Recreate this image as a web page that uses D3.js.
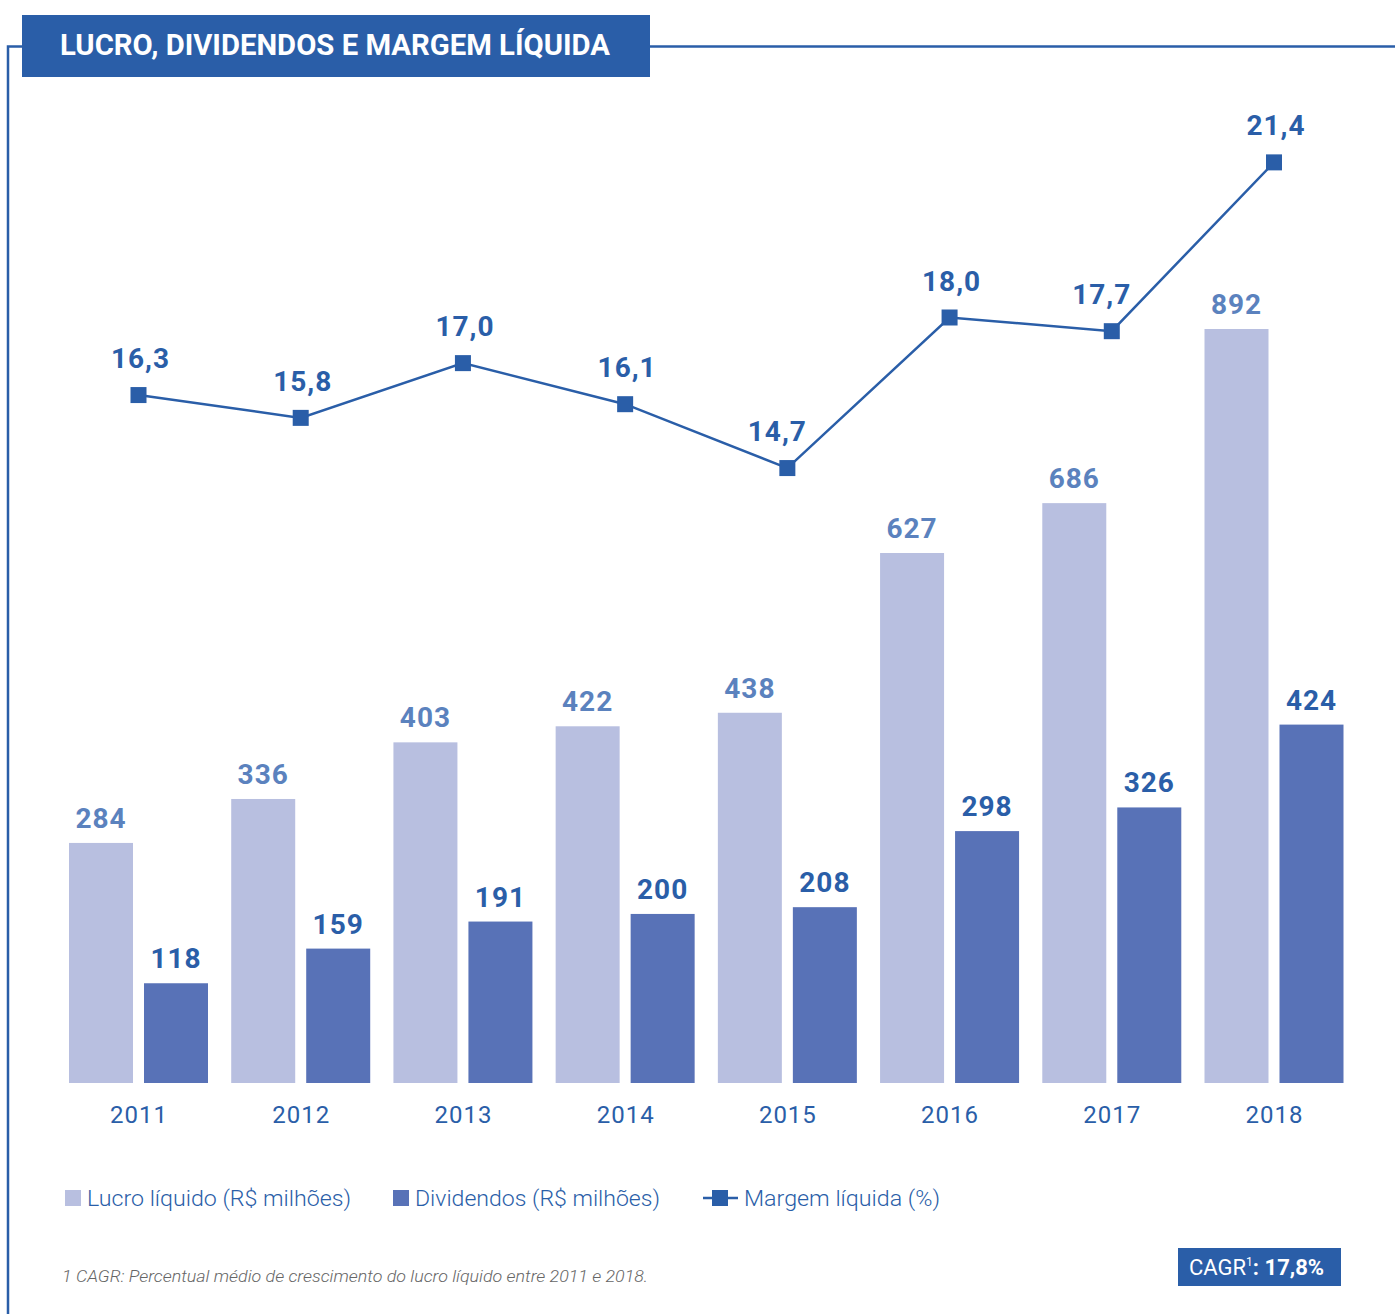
<!DOCTYPE html>
<html>
<head>
<meta charset="utf-8">
<script src="https://cdn.jsdelivr.net/npm/d3@7"></script>
<style>
  html, body { margin: 0; padding: 0; background: #ffffff; }
  svg { display: block; font-family: Roboto, "Noto Sans", sans-serif; }
</style>
</head>
<body>
<svg id="chart" width="1395" height="1314"></svg>
<script>
// Net income, dividends and net margin, 2011–2018
const years = ["2011", "2012", "2013", "2014", "2015", "2016", "2017", "2018"];
const lucro = [284, 336, 403, 422, 438, 627, 686, 892];        // R$ milhões
const dividendos = [118, 159, 191, 200, 208, 298, 326, 424];   // R$ milhões
const margem = [16.3, 15.8, 17.0, 16.1, 14.7, 18.0, 17.7, 21.4]; // %
const legendLabels = ["Lucro líquido (R$ milhões)", "Dividendos (R$ milhões)", "Margem líquida (%)"];
const titleText = "LUCRO, DIVIDENDOS E MARGEM LÍQUIDA";
const footnote = "1 CAGR: Percentual médio de crescimento do lucro líquido entre 2011 e 2018.";
const cagrValue = 17.8;

const C = {
  brand: "#2a5ea8",
  lucro: "#b8bfe0",
  div: "#5872b7",
  lucroText: "#5b82be",
  foot: "#666666"
};

const fmt = (v, d) => v.toFixed(d).replace(".", ",");

const svg = d3.select("#chart");

// Frame: left rule and top rule broken by the title box
const frame = svg.append("g").attr("fill", "none").attr("stroke", C.brand).attr("stroke-width", 2.5);
frame.append("path").attr("d", "M8,1314 V46.5 H22");
frame.append("path").attr("d", "M650,46.5 H1395");

svg.append("rect").attr("x", 22).attr("y", 15).attr("width", 628).attr("height", 62).attr("fill", C.brand);
svg.append("text")
  .attr("x", 60).attr("y", 55)
  .attr("fill", "#ffffff").attr("font-weight", 700).attr("font-size", 29)
  .attr("textLength", 550).attr("lengthAdjust", "spacingAndGlyphs")
  .text(titleText);

// Scales
const x = d3.scalePoint().domain(years).range([138.5, 1274]);
const yBar = d3.scaleLinear().domain([0, 892]).range([1083, 329]);
const yLine = d3.scaleLinear().domain([14, 22]).range([500, 135]);

const barW = 64, gap = 11;
const lucroX = d => x(d) - gap / 2 - barW;
const divX = d => x(d) + gap / 2;

// Bars
const gb = svg.append("g");
gb.selectAll("rect.lucro").data(years).join("rect")
  .attr("class", "lucro")
  .attr("x", d => lucroX(d)).attr("width", barW)
  .attr("y", (d, i) => yBar(lucro[i])).attr("height", (d, i) => yBar(0) - yBar(lucro[i]))
  .attr("fill", C.lucro);
gb.selectAll("rect.div").data(years).join("rect")
  .attr("class", "div")
  .attr("x", d => divX(d)).attr("width", barW)
  .attr("y", (d, i) => yBar(dividendos[i])).attr("height", (d, i) => yBar(0) - yBar(dividendos[i]))
  .attr("fill", C.div);

// Bar value labels
const gl = svg.append("g").attr("font-weight", 700).attr("font-size", 28).attr("text-anchor", "middle").attr("letter-spacing", 1);
gl.selectAll("text.lucro").data(years).join("text")
  .attr("x", d => lucroX(d) + barW / 2).attr("y", (d, i) => yBar(lucro[i]) - 15)
  .attr("fill", C.lucroText).text((d, i) => lucro[i]);
gl.selectAll("text.div").data(years).join("text")
  .attr("x", d => divX(d) + barW / 2).attr("y", (d, i) => yBar(dividendos[i]) - 15)
  .attr("fill", C.brand).text((d, i) => dividendos[i]);

// Year axis (labels only)
const axis = svg.append("g").attr("transform", "translate(0,1083)")
  .call(d3.axisBottom(x).tickSize(0).tickPadding(40));
axis.select(".domain").remove();
axis.selectAll("text")
  .attr("font-family", "Roboto, sans-serif").attr("font-size", 24)
  .attr("fill", C.brand).attr("letter-spacing", 1).attr("dy", 0);

// Net margin line
const pts = years.map((d, i) => [x(d), yLine(margem[i])]);
svg.append("path").datum(pts)
  .attr("d", d3.line())
  .attr("fill", "none").attr("stroke", C.brand).attr("stroke-width", 2.5);
svg.append("g").selectAll("rect").data(pts).join("rect")
  .attr("x", d => d[0] - 8).attr("y", d => d[1] - 8)
  .attr("width", 16).attr("height", 16).attr("fill", C.brand);

// Value labels above the markers; nudged sideways when a steep segment
// leaves the marker upwards on that side, so the text stays clear of the line
const labelDx = (d, i) => {
  const riseRight = i < pts.length - 1 ? d[1] - pts[i + 1][1] : 0;
  const riseLeft = i > 0 ? d[1] - pts[i - 1][1] : 0;
  if (riseRight > 120) return -10;
  if (riseLeft > 120) return 10;
  return 2;
};
svg.append("g").attr("font-weight", 700).attr("font-size", 28).attr("text-anchor", "middle").attr("letter-spacing", 1)
  .selectAll("text").data(pts).join("text")
  .attr("x", (d, i) => d[0] + labelDx(d, i)).attr("y", d => d[1] - 27)
  .attr("fill", C.brand).text((d, i) => fmt(margem[i], 1));

// Legend
const lg = svg.append("g").attr("font-size", 22).attr("font-weight", 300).attr("fill", C.brand);
lg.append("rect").attr("x", 65).attr("y", 1190).attr("width", 16).attr("height", 16).attr("fill", C.lucro);
lg.append("text").attr("x", 87).attr("y", 1206).attr("textLength", 264).attr("lengthAdjust", "spacingAndGlyphs").text(legendLabels[0]);
lg.append("rect").attr("x", 393).attr("y", 1190).attr("width", 16).attr("height", 16).attr("fill", C.div);
lg.append("text").attr("x", 415).attr("y", 1206).attr("textLength", 245).attr("lengthAdjust", "spacingAndGlyphs").text(legendLabels[1]);
lg.append("line").attr("x1", 703).attr("x2", 738).attr("y1", 1198).attr("y2", 1198).attr("stroke", C.brand).attr("stroke-width", 2.5);
lg.append("rect").attr("x", 712).attr("y", 1190).attr("width", 16).attr("height", 16).attr("fill", C.brand);
lg.append("text").attr("x", 744).attr("y", 1206).attr("textLength", 196).attr("lengthAdjust", "spacingAndGlyphs").text(legendLabels[2]);

// Footnote
svg.append("text").attr("x", 62).attr("y", 1282)
  .attr("font-size", 16).attr("font-style", "italic").attr("font-weight", 300).attr("fill", C.foot)
  .attr("textLength", 586).attr("lengthAdjust", "spacingAndGlyphs")
  .text(footnote);

// CAGR badge
svg.append("rect").attr("x", 1178).attr("y", 1248).attr("width", 163).attr("height", 38).attr("fill", C.brand);
const ct = svg.append("text").attr("x", 1189).attr("y", 1275).attr("fill", "#ffffff").attr("font-size", 22);
ct.append("tspan").text("CAGR");
ct.append("tspan").attr("font-size", 12).attr("dy", -9).text("1");
ct.append("tspan").attr("font-weight", 700).attr("dy", 9).text(": " + fmt(cagrValue, 1) + "%");
</script>
</body>
</html>
